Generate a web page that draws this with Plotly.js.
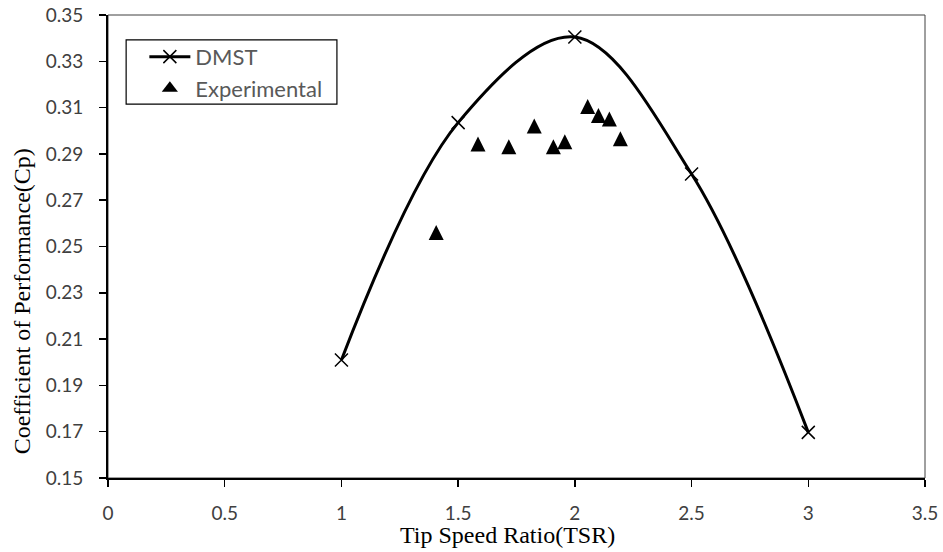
<!DOCTYPE html>
<html>
<head>
<meta charset="utf-8">
<script src="https://cdn.plot.ly/plotly-3.0.1.min.js"></script>
<style>html,body{margin:0;padding:0;background:#fff;}#chart{width:943px;height:552px;}</style>
</head>
<body>
<div id="chart"></div>
<script>
// DMST model
const dmstTSR = [1, 1.5, 2, 2.5, 3];
const dmstCp  = [0.201, 0.3035, 0.3405, 0.2813, 0.1697];
// Experimental
const expTSR = [1.406, 1.585, 1.717, 1.826, 1.908, 1.957, 2.055, 2.101, 2.148, 2.195];
const expCp  = [0.2560, 0.2943, 0.2931, 0.3021, 0.2931, 0.2952, 0.3105, 0.3066, 0.3051, 0.2965];
// Axis ticks
const xTicks = [0, 0.5, 1, 1.5, 2, 2.5, 3, 3.5];
const yTicks = [0.15, 0.17, 0.19, 0.21, 0.23, 0.25, 0.27, 0.29, 0.31, 0.33, 0.35];
// Titles
const xTitle = 'Tip Speed Ratio(TSR)';
const yTitle = 'Coefficient of Performance(Cp)';

const tickFont = {family: 'Lato, "Open Sans", sans-serif', size: 19, color: '#404040'};
const titleFont = {family: '"Liberation Serif", "Times New Roman", serif', size: 24, color: '#000'};

const traces = [
  {
    x: dmstTSR, y: dmstCp, name: 'DMST', type: 'scatter', mode: 'lines+markers',
    line: {color: '#000', width: 3, shape: 'spline', smoothing: 1},
    marker: {symbol: 'x-thin', size: 13, color: '#000', line: {color: '#000', width: 1.5}},
    legendgroup: 'a'
  },
  {
    x: expTSR, y: expCp, name: 'Experimental', type: 'scatter', mode: 'markers',
    marker: {symbol: 'arrow-down', angle: 180, size: 15, standoff: 7.5, color: '#000', line: {width: 0}},
    legendgroup: 'b', showlegend: false
  },
  {
    // legend entry for the experimental series (no data drawn)
    x: [null], y: [null], name: 'Experimental', type: 'scatter', mode: 'markers',
    marker: {symbol: 'triangle-up', size: 14, color: '#000', line: {width: 0}},
    legendgroup: 'b', hoverinfo: 'skip'
  }
];

const layout = {
  width: 943, height: 552,
  margin: {l: 107.5, r: 17.5, t: 15, b: 73.5},
  paper_bgcolor: '#fff', plot_bgcolor: '#fff',
  showlegend: true,
  legend: {
    x: 0.0445, y: 0.955, xanchor: 'left', yanchor: 'top',
    borderwidth: 0, bgcolor: 'rgba(0,0,0,0)',
    font: {family: 'Lato, "Open Sans", sans-serif', size: 22, color: '#595959'},
    tracegroupgap: 0, itemwidth: 41
  },
  xaxis: {
    range: [0, 3.5], tickvals: xTicks, ticktext: xTicks.map(v => String(v)),
    showgrid: false, zeroline: false, showline: true, linecolor: '#000', linewidth: 2,
    ticks: 'outside', ticklen: 7, tickwidth: 1.5, tickcolor: '#000',
    tickfont: tickFont, ticklabelstandoff: 10,
    automargin: false
  },
  yaxis: {
    range: [0.15, 0.35], tickvals: yTicks, ticktext: yTicks.map(v => v.toFixed(2)),
    showgrid: false, zeroline: false, showline: true, linecolor: '#000', linewidth: 2,
    ticks: 'outside', ticklen: 7, tickwidth: 1.5, tickcolor: '#000',
    tickfont: tickFont, ticklabelstandoff: 12,
    automargin: false
  },
  annotations: [
    {text: xTitle, xref: 'paper', yref: 'paper', x: 0.4884, y: -0.1241,
     xanchor: 'center', yanchor: 'middle', showarrow: false, font: titleFont},
    {text: yTitle, xref: 'paper', yref: 'paper', x: -0.1057, y: 0.3808, textangle: -90,
     xanchor: 'center', yanchor: 'middle', showarrow: false, font: titleFont}
  ],
  shapes: [
    {type: 'rect', xref: 'paper', yref: 'paper', x0: 0, x1: 1, y0: 0, y1: 1,
     line: {color: '#404040', width: 1}, layer: 'below'},
    // legend frame
    {type: 'rect', xref: 'paper', yref: 'paper', x0: 0.0222, x1: 0.2802, y0: 0.8073, y1: 0.9461,
     line: {color: '#000', width: 1.2}, fillcolor: '#fff', layer: 'below'}
  ]
};

Plotly.newPlot('chart', traces, layout, {displayModeBar: false, staticPlot: true});
</script>
</body>
</html>
